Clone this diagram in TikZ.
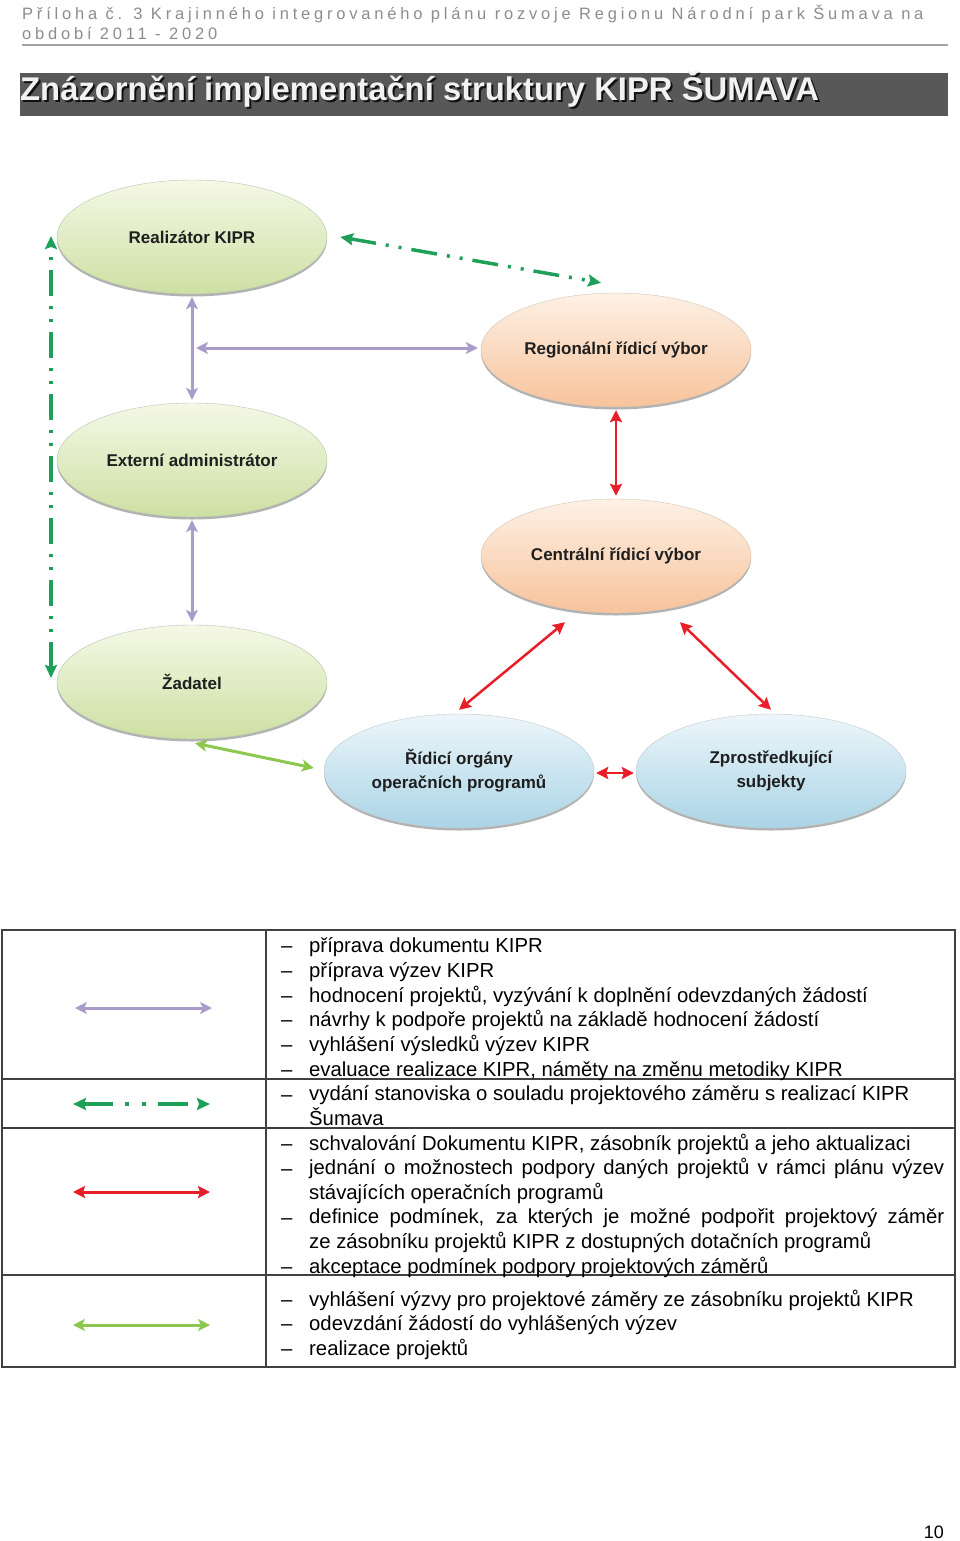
\documentclass[tikz,border=0pt]{standalone}
\usepackage{fontspec}
\setmainfont{Liberation Sans}
\newfontfamily\hlavafont[LetterSpace=23]{Liberation Sans}
\usepackage{tikz}
\usetikzlibrary{arrows.meta,shapes.geometric,shadows}
\definecolor{lila}{RGB}{170,156,202}
\definecolor{tmzel}{RGB}{30,160,88}
\definecolor{cerv}{RGB}{232,30,40}
\definecolor{svzel}{RGB}{140,200,80}
\definecolor{seda}{RGB}{140,140,140}
\definecolor{pruh}{RGB}{88,88,88}

\tikzset{
	elipsa/.style={ellipse, minimum width=270pt, minimum height=114pt, inner sep=0pt,
		align=center, text=black!88, font=\bfseries\fontsize{17}{24}\selectfont,
		drop shadow={shadow xshift=0pt, shadow yshift=-2.5pt, fill=black, opacity=.3}},
	zelelip/.style={elipsa, draw=green!25!black!30, top color={rgb,255:red,245;green,248;blue,230}, bottom color={rgb,255:red,205;green,224;blue,163}},
	oranelip/.style={elipsa, draw=orange!40!black!30, top color={rgb,255:red,253;green,241;blue,230}, bottom color={rgb,255:red,248;green,195;blue,155}},
	modelip/.style={elipsa, draw=cyan!30!black!30, top color={rgb,255:red,237;green,246;blue,250}, bottom color={rgb,255:red,170;green,212;blue,230}},
	spoj/.style={shorten >=3pt, shorten <=3pt},
	lilasip/.style={draw=lila, line width=3pt, >={Stealth[length=12pt,width=12pt,inset=3pt]}, <->},
	zelsip/.style={draw=tmzel, line width=3.5pt, >={Stealth[length=13pt,width=12pt,inset=2pt]}, <->,
		dash pattern=on 26pt off 10pt on 3pt off 10pt on 3pt off 10pt},
	cervsip/.style={draw=cerv, line width=2.5pt, >={Stealth[length=12pt,width=12pt,inset=2pt]}, <->},
	svzelsip/.style={draw=svzel, line width=3pt, >={Stealth[length=12pt,width=12pt,inset=3pt]}, <->},
	polozka/.style={anchor=base west, inner sep=0pt, align=left, font=\fontsize{20.3}{24.5}\selectfont},
	pomlcka/.style={anchor=base west, inner sep=0pt, font=\fontsize{20.3}{24.5}\selectfont},
	tabulka/.style={draw=black!75, line width=1.5pt}
}

\begin{document}
\begin{tikzpicture}[x=1pt,y=-1pt]
	\useasboundingbox (0,0) rectangle (960,1541);
	% zahlavi
	\node[anchor=base west, inner sep=0pt, text=seda, align=left, font=\hlavafont\fontsize{16.5}{20.5}\selectfont] (hlava) at (22,40)
		{Příloha č. 3 Krajinného integrovaného plánu rozvoje Regionu Národní park Šumava na\\období 2011 - 2020};
	\draw[seda!80, line width=1.5pt] (22,45) -- (948,45);
	%
	\fill[pruh] (20,73) rectangle (948,116);
	\node[anchor=base west, inner sep=0pt, text=black, opacity=.8, font=\bfseries\fontsize{32.8}{36}\selectfont] (titstin) at (22,103)
		{Znázornění implementační struktury KIPR ŠUMAVA};
	\node[anchor=base west, inner sep=0pt, text=black!5, font=\bfseries\fontsize{32.8}{36}\selectfont] (titul) at (20,101)
		{Znázornění implementační struktury KIPR ŠUMAVA};
	% elipsy
	\node[zelelip] (realiz) at (192,237) {Realizátor KIPR};
	\node[zelelip] (extadm) at (192,460) {Externí administrátor};
	\node[zelelip] (zadatel) at (192,682) {Žadatel};
	\node[oranelip] (regrv) at (616,350) {Regionální řídicí výbor};
	\node[oranelip] (centrv) at (616,556) {Centrální řídicí výbor};
	\node[modelip] (ridorg) at (459,771) {Řídicí orgány\\operačních programů};
	\node[modelip] (zprost) at (771,771) {Zprostředkující\\subjekty};
	% spoje
	\coordinate (lilabod) at (196,348);
	\coordinate (zelhore) at (51,236);
	\coordinate (zeldole) at (51,678);
	\draw[lilasip,spoj] (realiz.south) -- (extadm.north);
	\draw[lilasip,spoj] (extadm.south) -- (zadatel.north);
	\draw[lilasip,shorten >=3pt] (lilabod) -- (lilabod -| regrv.west);
	\draw[zelsip] (zeldole) -- (zelhore);
	\draw[zelsip] ([xshift=13pt]realiz.east) -- ([xshift=-15pt,yshift=10pt]regrv.north);
	\draw[cervsip,spoj] (regrv.south) -- (centrv.north);
	\draw[cervsip] ([xshift=-51pt,yshift=-9pt]centrv.south) -- ([yshift=4pt]ridorg.north);
	\draw[cervsip] ([xshift=64pt,yshift=-9pt]centrv.south) -- ([yshift=4pt]zprost.north);
	\draw[cervsip,shorten >=2pt,shorten <=2pt] ([yshift=-2pt]ridorg.east) -- ([yshift=-2pt]zprost.west);
	\draw[svzelsip] ([xshift=3pt,yshift=-4pt]zadatel.south) -- ([xshift=-10pt,yshift=3pt]ridorg.west);
	% tabulka
	\draw[tabulka] (2,930) rectangle (955,1367);
	\draw[tabulka] (266,930) -- (266,1367);
	\foreach \y in {1079,1128,1275}
		\draw[tabulka] (2,\y) -- (955,\y);
	\draw[lilasip] (75,1008) -- (212,1008);
	\draw[zelsip, dash pattern=on 30pt off 12pt on 4pt off 13pt on 4pt off 12pt] (73,1104) -- (210,1104);
	\draw[cervsip, line width=3pt] (73,1192) -- (210,1192);
	\draw[svzelsip] (73,1325) -- (210,1325);
	%
	\foreach \y [count=\i] in {952,977,1002,1026,1051,1076,1101,1150,1175,1224,1273,1306,1330,1355}
		\node[pomlcka] (p\i) at (281,\y) {–};
	\node[polozka] (r1a) at (309,952) {příprava dokumentu KIPR};
	\node[polozka] (r1b) at (309,977) {příprava výzev KIPR};
	\node[polozka] (r1c) at (309,1002) {hodnocení projektů, vyzývání k doplnění odevzdaných žádostí};
	\node[polozka] (r1d) at (309,1026) {návrhy k podpoře projektů na základě hodnocení žádostí};
	\node[polozka] (r1e) at (309,1051) {vyhlášení výsledků výzev KIPR};
	\node[polozka] (r1f) at (309,1076) {evaluace realizace KIPR, náměty na změnu metodiky KIPR};
	\node[polozka] (r2a) at (309,1125) {vydání stanoviska o souladu projektového záměru s realizací KIPR\\Šumava};
	\node[polozka] (r3a) at (309,1150) {schvalování Dokumentu KIPR, zásobník projektů a jeho aktualizaci};
	\node[polozka] (r3b) at (309,1199) {\makebox[635pt][s]{jednání o možnostech podpory daných projektů v rámci plánu výzev}\\stávajících operačních programů};
	\node[polozka] (r3c) at (309,1248) {\makebox[635pt][s]{definice podmínek, za kterých je možné podpořit projektový záměr}\\ze zásobníku projektů KIPR z dostupných dotačních programů};
	\node[polozka] (r3d) at (309,1273) {akceptace podmínek podpory projektových záměrů};
	\node[polozka] (r4a) at (309,1306) {vyhlášení výzvy pro projektové záměry ze zásobníku projektů KIPR};
	\node[polozka] (r4b) at (309,1330) {odevzdání žádostí do vyhlášených výzev};
	\node[polozka] (r4c) at (309,1355) {realizace projektů};
	% cislo strany
	\node[anchor=base east, inner sep=0pt, font=\fontsize{18}{20}\selectfont] (strana) at (944,1538) {10};
\end{tikzpicture}
\end{document}
